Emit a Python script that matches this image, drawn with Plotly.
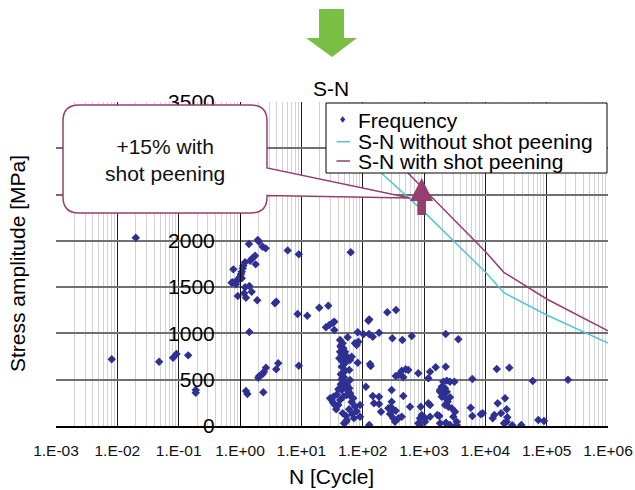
import plotly.graph_objects as go

# ---------------- data ----------------
freq_N = [
    0.0081, 0.020, 0.048, 0.081, 0.092, 0.143, 0.19, 0.19,
    0.78, 0.90, 0.76, 0.86, 0.92, 0.73,
    1.40, 1.95, 2.04, 2.34, 2.62, 6.0, 9.1,
    1.76, 1.59, 1.46, 1.21, 1.13, 1.11, 1.07, 1.04, 1.0, 1.07, 1.80, 1.0,
    1.21, 1.42, 1.55, 1.17, 1.25, 1.91, 3.7, 3.9, 8.7, 12.5, 1.42,
    4.2, 3.9, 9.1, 2.65, 2.46, 2.34, 2.06, 1.99, 1.25, 1.32, 2.40,
    19.6, 27.5, 25.2, 28.6, 32.5, 34.5, 34.5, 128, 124, 83, 103, 127, 146, 185, 63.8,
    42.8, 47.3, 43.8, 48.4, 42.8, 51.5, 45.5, 55, 41.6, 48.4, 58.3, 62.2, 66.2, 51.5,
    45.5, 60.5, 47.3, 49.7, 45.5, 48.4, 51.5, 62.2, 45.5, 40.1, 60.5, 55, 62.2, 48.4,
    42.8, 33.3, 31.3, 29.4, 35.4, 40.1, 47.3, 53.6, 55, 49.7, 53.6, 90.6, 90.6, 128,
    113, 132, 135, 83, 57, 75, 85, 80, 146, 153, 185, 185, 199,
    44, 50, 46, 52, 44, 50, 56, 44, 58, 64, 38, 66, 70, 75, 80, 60, 68, 72, 37, 33,
    252, 350, 305, 444, 631, 2260, 3630,
    504, 555, 434, 382, 346, 460, 808, 1253, 1552, 2260, 1178,
    2066, 2350, 2655, 3126, 1945, 2202, 1824, 2066, 2350, 1945, 2260, 2655, 2432, 2202,
    2496, 2832, 3208, 3008, 3414, 1824, 1040, 1253, 1778, 2285, 2655, 3414, 1178, 1253,
    884, 591, 808, 861, 918, 1040,
    297, 297, 460, 262, 290, 316, 346, 279, 316, 382, 434, 337, 861, 1648, 1824, 2260,
    6138, 15350, 24600, 59300, 222800, 5780, 6138, 8410, 9070, 15900, 20950, 22300,
    18030, 14030, 13200, 22850, 22300, 20200, 27500, 38600, 73100, 90500,
]
freq_S = [
    720, 2034, 695, 738, 778, 763, 389, 360,
    1692, 1577, 1552, 1530, 1404, 1548,
    1966, 2009, 1990, 1937, 1919, 1897, 1854,
    1839, 1811, 1785, 1768, 1731, 1703, 1666, 1638, 1612, 1595, 1746, 1588,
    1498, 1512, 1450, 1433, 1386, 1358, 1325, 1343, 1210, 1191, 1015,
    677, 612, 651, 630, 586, 562, 540, 522, 378, 346, 364,
    1278, 1299, 1066, 1091, 1116, 1126, 1037, 1152, 1137, 1012, 990, 994, 964, 1008, 1876,
    929, 893, 856, 839, 803, 803, 767, 748, 731, 713, 731, 713, 748, 677,
    640, 605, 569, 526, 504, 461, 424, 497, 389, 396, 407, 335, 353, 316,
    281, 316, 281, 299, 227, 227, 137, 108, 65, 29, 46, 227, 100, 11,
    424, 670, 648, 684, 958, 893, 910, 875, 324, 245, 316, 238, 154,
    870, 780, 700, 600, 560, 470, 440, 450, 380, 320, 340, 260, 300, 210, 160, 180, 130, 85, 180, 250,
    1228, 1253, 947, 929, 972, 994, 936,
    612, 605, 597, 551, 540, 526, 569, 587, 634, 640, 515,
    479, 490, 479, 479, 424, 407, 370, 353, 370, 316, 299, 310, 262, 227,
    208, 191, 154, 100, 46, 389, 46, 100, 108, 36, 11, 11, 245, 227,
    208, 208, 29, 83, 119, 83,
    389, 262, 324, 191, 202, 173, 165, 130, 83, 83, 100, 46, 11, 119, 29, 29,
    508, 616, 630, 486, 500, 198, 108, 126, 137, 245, 299, 180,
    137, 119, 83, 94, 46, 29, 8, 11, 65, 54,
]

sn_N = [100, 1000, 10000, 20000, 100000, 1000000]
sn_without = [2916, 2313, 1663, 1440, 1199, 896]
sn_with = [3230, 2560, 1885, 1660, 1372, 1028]

x_tickvals = [1e-3, 1e-2, 1e-1, 1e0, 1e1, 1e2, 1e3, 1e4, 1e5, 1e6]
x_ticktext = ["1.E-03", "1.E-02", "1.E-01", "1.E+00", "1.E+01",
              "1.E+02", "1.E+03", "1.E+04", "1.E+05", "1.E+06"]
y_tickvals = [0, 500, 1000, 1500, 2000, 2500, 3000, 3500]
# 2500 and 3000 sit underneath the callout box in the reference
y_ticktext = ["0", "500", "1000", "1500", "2000", "", "", "3500"]

legend_labels = ["Frequency", "S-N without shot peening", "S-N with shot peening"]
callout_text = "+15% with<br>shot peening"

# ---------------- styling ----------------
FONT = "Liberation Sans, Arial, sans-serif"
NAVY = "#2E3192"
CYAN = "#52C6D8"
MAROON = "#953F70"
GREEN = "#79BE45"

# plot area in pixels
L, R, T, B = 56, 608, 102, 426
W, H = R - L, B - T


def fx(p):
    return (p - L) / W


def fy(p):
    return (B - p) / H


def path(points, close=True):
    s = "M " + " L ".join(f"{fx(x):.5f},{fy(y):.5f}" for x, y in points)
    return s + (" Z" if close else "")


fig = go.Figure()
fig.add_trace(go.Scatter(x=freq_N, y=freq_S, mode="markers", name=legend_labels[0],
                         marker=dict(symbol="diamond", size=6.5, color=NAVY, line=dict(width=0)),
                         showlegend=False))
fig.add_trace(go.Scatter(x=sn_N, y=sn_without, mode="lines", name=legend_labels[1],
                         line=dict(color=CYAN, width=1.5), showlegend=False))
fig.add_trace(go.Scatter(x=sn_N, y=sn_with, mode="lines", name=legend_labels[2],
                         line=dict(color=MAROON, width=1.5), showlegend=False))

minor_vals = [k * 10 ** e for e in range(-3, 6) for k in range(2, 10)]

fig.update_layout(
    width=635, height=490,
    margin=dict(l=L, r=635 - R, t=T, b=490 - B, pad=0),
    paper_bgcolor="white", plot_bgcolor="white",
    font=dict(family=FONT, size=21, color="black"),
    showlegend=False,
    xaxis=dict(type="log", range=[-3, 6], tickmode="array", tickvals=x_tickvals,
               ticktext=x_ticktext, tickfont=dict(size=15.5, color="#111"),
               showgrid=True, gridcolor="#1e1e1e", gridwidth=1,
               showline=True, linecolor="black", linewidth=1.5,
               ticks="", ticklabelstandoff=10,
               minor=dict(tickmode="array", tickvals=minor_vals, showgrid=True,
                          gridcolor="#d2d2d2", gridwidth=1.2, ticks=""),
               zeroline=False, automargin=False),
    yaxis=dict(range=[0, 3500], tickmode="array", tickvals=y_tickvals,
               ticktext=y_ticktext,
               anchor="free", position=1 / 3, side="left",
               showgrid=True, gridcolor="#707070", gridwidth=1.5,
               showline=True, linecolor="black", linewidth=1,
               ticks="", ticklabelstandoff=21, tickfont=dict(size=21),
               zeroline=False, automargin=False),
)

shapes = []
# callout box with pointer
r = 16
bx0, by0, bx1, by1 = 63, 105, 267, 213
callout = (f"M {fx(bx0 + r):.5f},{fy(by0):.5f} L {fx(bx1 - r):.5f},{fy(by0):.5f} "
           f"Q {fx(bx1):.5f},{fy(by0):.5f} {fx(bx1):.5f},{fy(by0 + r):.5f} "
           f"L {fx(bx1):.5f},{fy(168):.5f} L {fx(410):.5f},{fy(198):.5f} "
           f"L {fx(bx1):.5f},{fy(195.5):.5f} L {fx(bx1):.5f},{fy(by1 - r):.5f} "
           f"Q {fx(bx1):.5f},{fy(by1):.5f} {fx(bx1 - r):.5f},{fy(by1):.5f} "
           f"L {fx(bx0 + r):.5f},{fy(by1):.5f} "
           f"Q {fx(bx0):.5f},{fy(by1):.5f} {fx(bx0):.5f},{fy(by1 - r):.5f} "
           f"L {fx(bx0):.5f},{fy(by0 + r):.5f} "
           f"Q {fx(bx0):.5f},{fy(by0):.5f} {fx(bx0 + r):.5f},{fy(by0):.5f} Z")
shapes.append(dict(type="path", xref="paper", yref="paper", path=callout,
                   fillcolor="white", line=dict(color=MAROON, width=1.5), layer="above"))
# maroon up arrow
shapes.append(dict(type="path", xref="paper", yref="paper",
                   path=path([(417.3, 215), (426, 215), (426, 201), (433, 201),
                              (421.7, 178), (410, 201), (417.3, 201)]),
                   fillcolor=MAROON, line=dict(width=0), layer="above"))
# green down arrow at top
shapes.append(dict(type="path", xref="paper", yref="paper",
                   path=path([(319, 9), (344, 9), (344, 38), (357, 38),
                              (332, 57), (306, 38), (319, 38)]),
                   fillcolor=GREEN, line=dict(width=0), layer="above"))
# manual legend box
shapes.append(dict(type="rect", xref="paper", yref="paper",
                   x0=fx(326), x1=fx(607), y0=fy(103), y1=fy(173),
                   fillcolor="white", line=dict(color="black", width=1), layer="above"))
# legend symbols
dx, dy, cx, cy = 2.6, 3.2, 342.7, 119.5
shapes.append(dict(type="path", xref="paper", yref="paper",
                   path=path([(cx, cy - dy), (cx + dx, cy), (cx, cy + dy), (cx - dx, cy)]),
                   fillcolor=NAVY, line=dict(width=0), layer="above"))
shapes.append(dict(type="line", xref="paper", yref="paper", x0=fx(336.5), x1=fx(350),
                   y0=fy(141.7), y1=fy(141.7), line=dict(color=CYAN, width=1.5), layer="above"))
shapes.append(dict(type="line", xref="paper", yref="paper", x0=fx(336.5), x1=fx(350),
                   y0=fy(161), y1=fy(161), line=dict(color=MAROON, width=1.5), layer="above"))
fig.update_layout(shapes=shapes)

annotations = [
    dict(text="S-N", x=fx(330.5), y=fy(88), xref="paper", yref="paper",
         showarrow=False, font=dict(size=21), xanchor="center", yanchor="middle"),
    dict(text="N [Cycle]", x=fx(331), y=fy(476), xref="paper", yref="paper",
         showarrow=False, font=dict(size=21), xanchor="center", yanchor="middle"),
    dict(text="Stress amplitude [MPa]", x=fx(17), y=fy(264), xref="paper", yref="paper",
         showarrow=False, font=dict(size=21), textangle=-90,
         xanchor="center", yanchor="middle"),
    dict(text=callout_text, x=fx(165), y=fy(160), xref="paper", yref="paper",
         showarrow=False, font=dict(size=21, color="#111"), xanchor="center",
         yanchor="middle", align="center"),
]
for lbl, yy in zip(legend_labels, [120, 141.5, 161.5]):
    annotations.append(dict(text=lbl, x=fx(356), y=fy(yy), xref="paper", yref="paper",
                            showarrow=False, font=dict(size=21), xanchor="left",
                            yanchor="middle"))
fig.update_layout(annotations=annotations)

fig.write_html("out.html", config={"displayModeBar": False},
               post_script="document.body.style.margin='0';")
